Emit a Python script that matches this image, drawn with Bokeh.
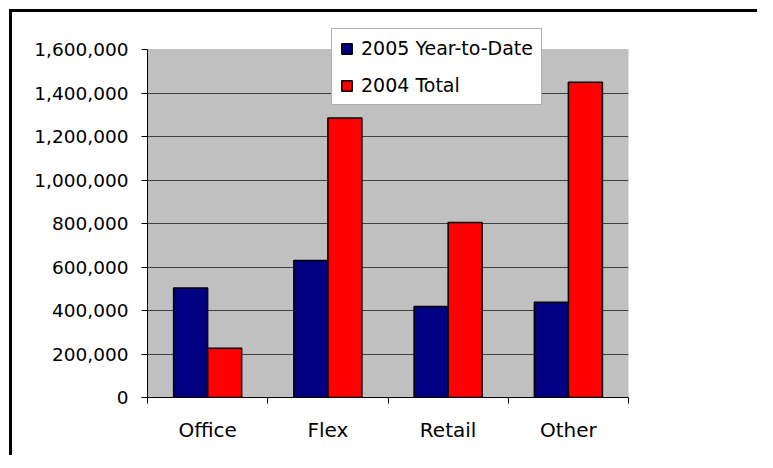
from bokeh.plotting import figure
from bokeh.models import (Range1d, FixedTicker, NumeralTickFormatter, Legend,
                          LegendItem, BoxAnnotation)
from bokeh.embed import file_html
from bokeh.resources import INLINE

categories = ["Office", "Flex", "Retail", "Other"]
ytd_2005 = [504000, 630000, 418000, 438000]
total_2004 = [227000, 1285000, 805000, 1450000]
series_names = ["2005 Year-to-Date", "2004 Total"]
series_colors = ["#000080", "#FF0000"]
y_ticks = [0, 200000, 400000, 600000, 800000, 1000000, 1200000, 1400000, 1600000]

FONT = "DejaVu Sans"
BAR_W = 0.283
n = len(categories)
centers = [i + 0.5 for i in range(n)]
boundaries = [float(i) for i in range(n + 1)]

# frame extends a little above the grey plot area so the legend can overlap it
FRAME_H = 377
AREA_H = 348
y_top = y_ticks[-1] * FRAME_H / AREA_H

p = figure(width=748, height=446, output_backend="svg", toolbar_location=None,
           x_range=Range1d(0, n), y_range=Range1d(y_ticks[0], y_top),
           min_border_left=135, min_border_right=132, min_border_top=8,
           min_border_bottom=61)
p.title.visible = False
p.background_fill_color = "white"
p.border_fill_color = "white"
p.outline_line_color = None

area = BoxAnnotation(bottom=y_ticks[0], top=y_ticks[-1], fill_color="#C0C0C0",
                     fill_alpha=1.0, line_color="#808080", line_width=1,
                     level="image")
p.add_layout(area)

r1 = p.vbar(x=[c - BAR_W / 2 for c in centers], top=ytd_2005, width=BAR_W,
            fill_color=series_colors[0], line_color="black", line_width=1.5)
r2 = p.vbar(x=[c + BAR_W / 2 for c in centers], top=total_2004, width=BAR_W,
            fill_color=series_colors[1], line_color="black", line_width=1.5)

# x axis: labels at category centres, ticks at category boundaries
xa = p.xaxis[0]
xa.ticker = FixedTicker(ticks=centers, minor_ticks=boundaries)
xa.major_label_overrides = {c: name for c, name in zip(centers, categories)}
xa.major_tick_out = 0
xa.major_tick_in = 0
xa.minor_tick_out = 6
xa.minor_tick_in = 0
xa.minor_tick_line_color = "black"
xa.axis_line_color = "black"
xa.major_label_text_font = FONT
xa.major_label_text_font_size = "20px"
xa.major_label_text_color = "black"
xa.major_label_standoff = 14

ya = p.yaxis[0]
ya.ticker = FixedTicker(ticks=y_ticks)
ya.bounds = (y_ticks[0], y_ticks[-1])
ya.formatter = NumeralTickFormatter(format="0,0")
ya.major_tick_out = 6
ya.major_tick_in = 0
ya.minor_tick_line_color = None
ya.major_tick_line_color = "black"
ya.axis_line_color = "black"
ya.major_label_text_font = FONT
ya.major_label_text_font_size = "18.5px"
ya.major_label_text_color = "black"
ya.major_label_standoff = 13

p.xgrid.visible = False
p.ygrid.ticker = FixedTicker(ticks=y_ticks[:-1])
p.ygrid.grid_line_color = "#404040"
p.ygrid.grid_line_width = 1

legend = Legend(items=[LegendItem(label=series_names[0], renderers=[r1]),
                       LegendItem(label=series_names[1], renderers=[r2])],
                location=(184, 292))
legend.background_fill_color = "white"
legend.background_fill_alpha = 1.0
legend.border_line_color = "#606060"
legend.border_line_width = 1
legend.padding = 8
legend.margin = 0
legend.spacing = 15
legend.glyph_width = 13
legend.glyph_height = 13
legend.label_height = 22
legend.label_standoff = 8
legend.label_text_font = FONT
legend.label_text_font_size = "19px"
legend.label_text_color = "black"
p.add_layout(legend)

p.styles = {"margin-left": "9px", "margin-top": "9px",
            "border-style": "solid none none solid",
            "border-width": "3px 0px 0px 3px",
            "border-color": "black"}

open("out.html", "w").write(file_html(p, INLINE))
